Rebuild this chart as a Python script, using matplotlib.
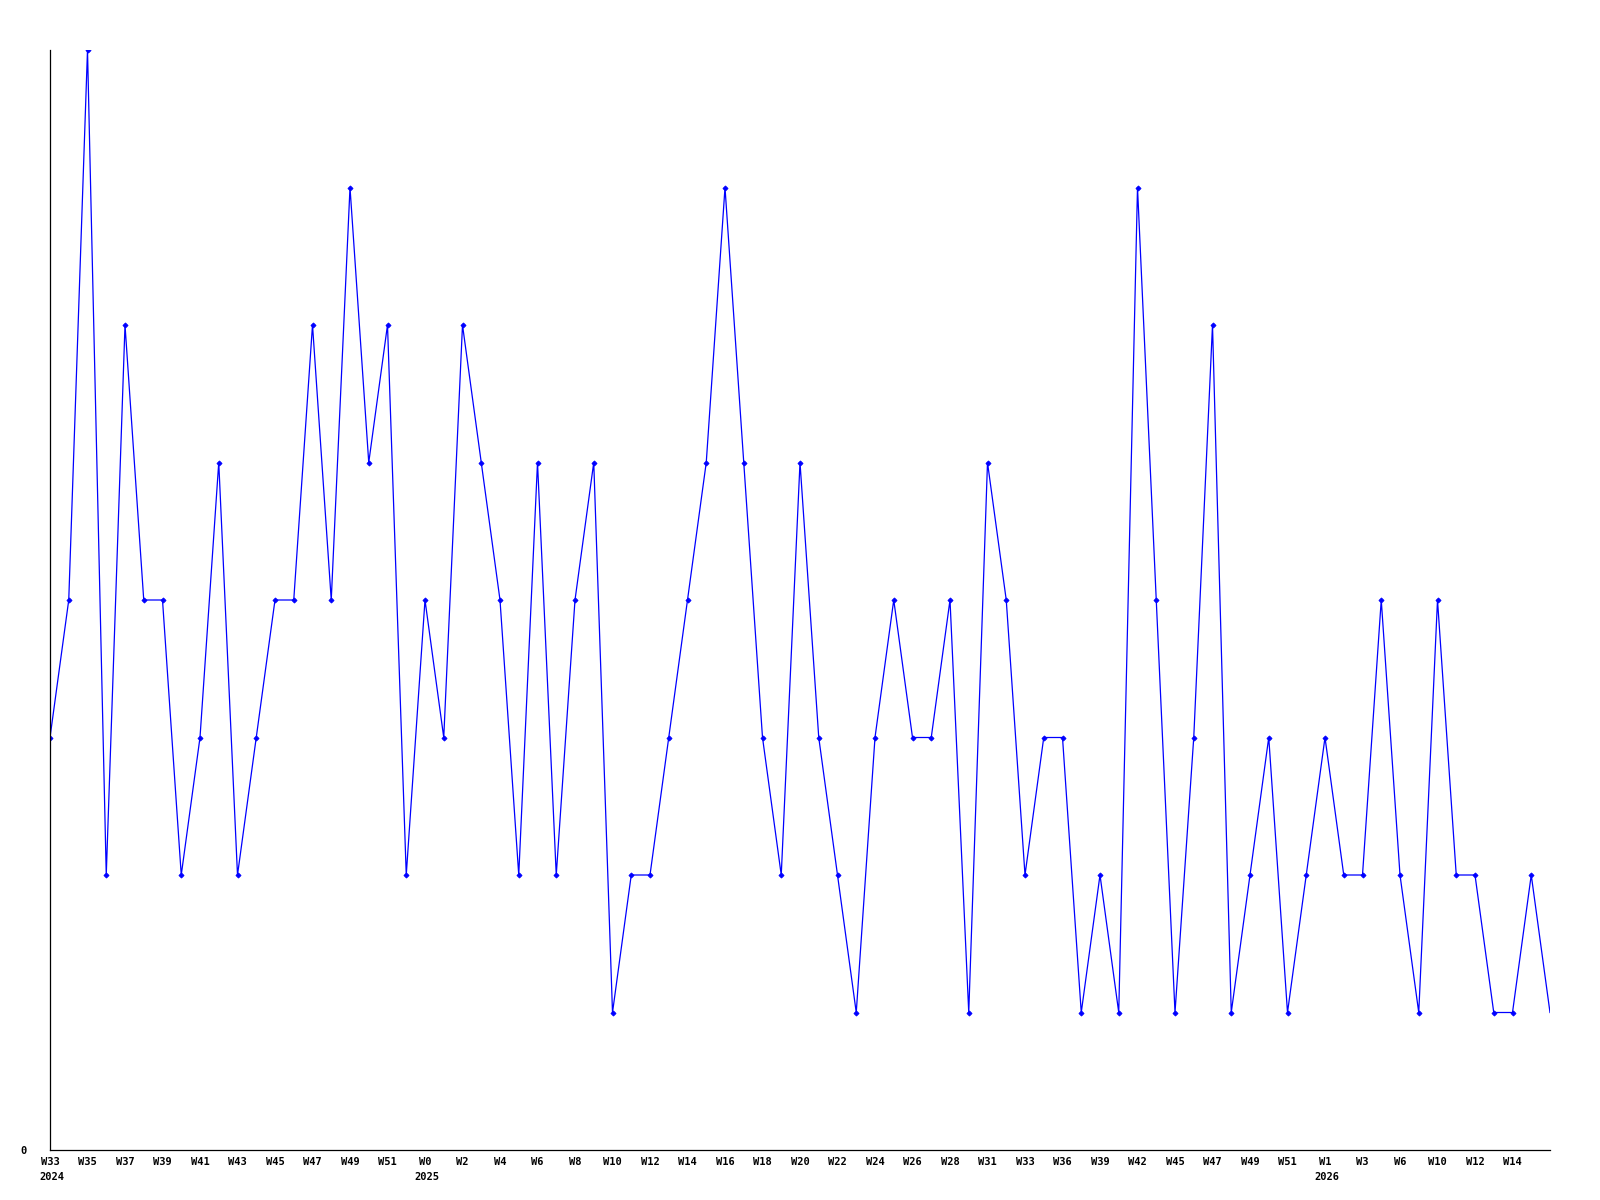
import matplotlib
matplotlib.use("Agg")
import matplotlib.pyplot as plt
import numpy as np

values = [3, 4, 8, 2, 6, 4, 4, 2, 3, 5,
          2, 3, 4, 4, 6, 4, 7, 5, 6, 2,
          4, 3, 6, 5, 4, 2, 5, 2, 4, 5,
          1, 2, 2, 3, 4, 5, 7, 5, 3, 2,
          5, 3, 2, 1, 3, 4, 3, 3, 4, 1,
          5, 4, 2, 3, 3, 1, 2, 1, 7, 4,
          1, 3, 6, 1, 2, 3, 1, 2, 3, 2,
          2, 4, 2, 1, 4, 2, 2, 1, 1, 2,
          1]

tick_labels = ["W33", "W35", "W37", "W39", "W41", "W43", "W45", "W47", "W49", "W51",
               "W0", "W2", "W4", "W6", "W8", "W10", "W12", "W14", "W16", "W18",
               "W20", "W22", "W24", "W26", "W28", "W31", "W33", "W36", "W39", "W42",
               "W45", "W47", "W49", "W51", "W1", "W3", "W6", "W10", "W12", "W14"]
year_labels = ["2024", "2025", "2026"]
year_label_ticks = ["W33", "W0", "W1"]  # the first week label of each year

font = dict(family="DejaVu Sans Mono", weight="bold", size=7.5)

fig = plt.figure(figsize=(16, 12), dpi=100)
ax = fig.add_axes([50/1600, 50/1200, 1500/1600, 1100/1200])

x = np.arange(len(values))
ax.plot(x, values, color="#0000ff", linewidth=0.9, marker="D", markersize=2.6,
        markevery=list(range(len(values) - 1)), markeredgewidth=0.6)

ax.set_xlim(0, len(values) - 1)
ax.set_ylim(0, 8)

tick_pos = x[::2][:len(tick_labels)]
ax.set_xticks(tick_pos)
ax.set_xticklabels(tick_labels, **font)
ax.set_yticks([0])
ax.set_yticklabels(["0"], **font)
ax.tick_params(axis="x", length=0, pad=5)
ax.tick_params(axis="y", length=0, pad=17)

for spine in ["top", "right"]:
    ax.spines[spine].set_visible(False)
for spine in ["left", "bottom"]:
    ax.spines[spine].set_linewidth(0.9)
    ax.spines[spine].set_color("black")

trans = ax.get_xaxis_transform()
for yl, wk in zip(year_labels, year_label_ticks):
    idx = tick_labels.index(wk)
    ax.annotate(yl, xy=(tick_pos[idx], 0), xycoords=trans,
                xytext=(-8, -19.5), textcoords="offset points",
                ha="left", va="center", **font)

fig.savefig("out.png", dpi=100)
